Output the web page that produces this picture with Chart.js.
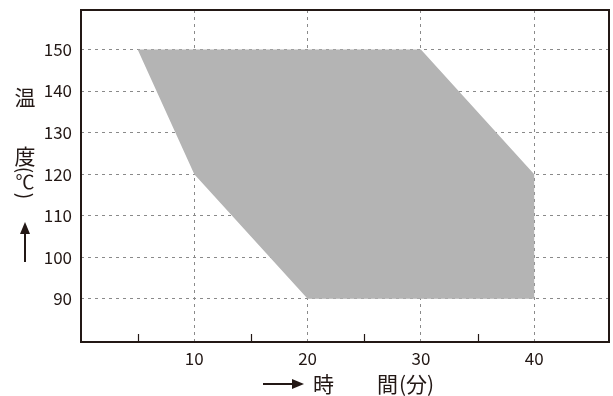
<!DOCTYPE html>
<html>
<head>
<meta charset="utf-8">
<script src="https://cdn.jsdelivr.net/npm/chart.js@4/dist/chart.umd.min.js"></script>
<style>
  body { margin: 0; background: #fff; }
</style>
</head>
<body>
<canvas id="chart" width="613" height="396"></canvas>
<script>
// region corners: time (min) / temperature (C)
const timeMin = [5, 30, 40, 40, 20, 10, 5];
const tempC = [150, 150, 120, 90, 90, 120, 150];
const xTickLabels = [10, 20, 30, 40];
const yTickLabels = [90, 100, 110, 120, 130, 140, 150];
const minorTicks = [5, 15, 25, 35];

const ink = '#231815';
const font = '"Noto Sans CJK JP", "Noto Sans", sans-serif';

const points = timeMin.map((t, i) => ({ x: t, y: tempC[i] }));

function rotatedChar(ctx, ch, x, y) {
    ctx.save();
    ctx.translate(x, y);
    ctx.rotate(Math.PI / 2);
    ctx.fillText(ch, 0, 0);
    ctx.restore();
}

const framePlugin = {
    id: 'frame',
    afterDraw(chart) {
        const ctx = chart.ctx;
        const a = chart.chartArea;
        const xs = chart.scales.x;
        ctx.save();
        ctx.strokeStyle = ink;
        ctx.lineWidth = 2;
        ctx.strokeRect(a.left, a.top, a.right - a.left, a.bottom - a.top);

        // small ticks on the bottom axis
        ctx.lineWidth = 1.2;
        minorTicks.forEach(v => {
            const px = Math.round(xs.getPixelForValue(v)) + 0.5;
            ctx.beginPath();
            ctx.moveTo(px, a.bottom);
            ctx.lineTo(px, a.bottom - 8);
            ctx.stroke();
        });

        // x title: arrow + 時 間(分)
        ctx.fillStyle = ink;
        ctx.lineWidth = 2;
        ctx.beginPath();
        ctx.moveTo(263, 384);
        ctx.lineTo(294, 384);
        ctx.stroke();
        ctx.beginPath();
        ctx.moveTo(304, 384);
        ctx.lineTo(292, 379);
        ctx.lineTo(292, 389);
        ctx.closePath();
        ctx.fill();
        ctx.font = '21px ' + font;
        ctx.textBaseline = 'middle';
        ctx.textAlign = 'left';
        ctx.fillText('時', 313, 384);
        ctx.fillText('間', 377, 384);
        ctx.fillText('(分)', 399, 384);

        // y title, vertical: 温 度 (℃) arrow
        ctx.textAlign = 'center';
        ctx.fillText('温', 25, 97);
        ctx.fillText('度', 25, 156);
        ctx.font = '19px ' + font;
        rotatedChar(ctx, '(', 25, 170);
        ctx.fillText('℃', 25, 182);
        rotatedChar(ctx, ')', 25, 196);
        ctx.beginPath();
        ctx.moveTo(25, 262);
        ctx.lineTo(25, 232);
        ctx.stroke();
        ctx.beginPath();
        ctx.moveTo(25, 222);
        ctx.lineTo(20, 234);
        ctx.lineTo(30, 234);
        ctx.closePath();
        ctx.fill();
        ctx.restore();
    }
};

new Chart(document.getElementById('chart'), {
    type: 'scatter',
    data: {
        datasets: [{
            data: points,
            showLine: true,
            fill: 'shape',
            backgroundColor: '#b4b4b4',
            borderWidth: 0,
            borderColor: 'rgba(0,0,0,0)',
            pointRadius: 0,
            tension: 0
        }]
    },
    options: {
        responsive: false,
        animation: false,
        layout: { padding: { top: 10, right: 4, left: 0, bottom: 0 } },
        plugins: {
            legend: { display: false },
            tooltip: { enabled: false }
        },
        scales: {
            x: {
                type: 'linear',
                min: 0,
                max: 46.6,
                z: 1,
                afterBuildTicks: s => { s.ticks = xTickLabels.map(v => ({ value: v })); },
                afterFit: s => { s.height = 54; s.paddingLeft = 0; s.paddingRight = 0; },
                grid: { color: '#8a8a8a', lineWidth: 1, drawTicks: false },
                border: { display: false, dash: [3, 4] },
                ticks: { color: ink, padding: 6, font: { family: font, size: 17 } }
            },
            y: {
                type: 'linear',
                min: 79.6,
                max: 159.5,
                z: 1,
                afterBuildTicks: s => { s.ticks = yTickLabels.map(v => ({ value: v })); },
                afterFit: s => { s.width = 81; s.paddingTop = 0; s.paddingBottom = 0; },
                grid: { color: '#8a8a8a', lineWidth: 1, drawTicks: false },
                border: { display: false, dash: [3, 4] },
                ticks: { color: ink, padding: 9, font: { family: font, size: 17 } }
            }
        }
    },
    plugins: [framePlugin]
});
</script>
</body>
</html>
